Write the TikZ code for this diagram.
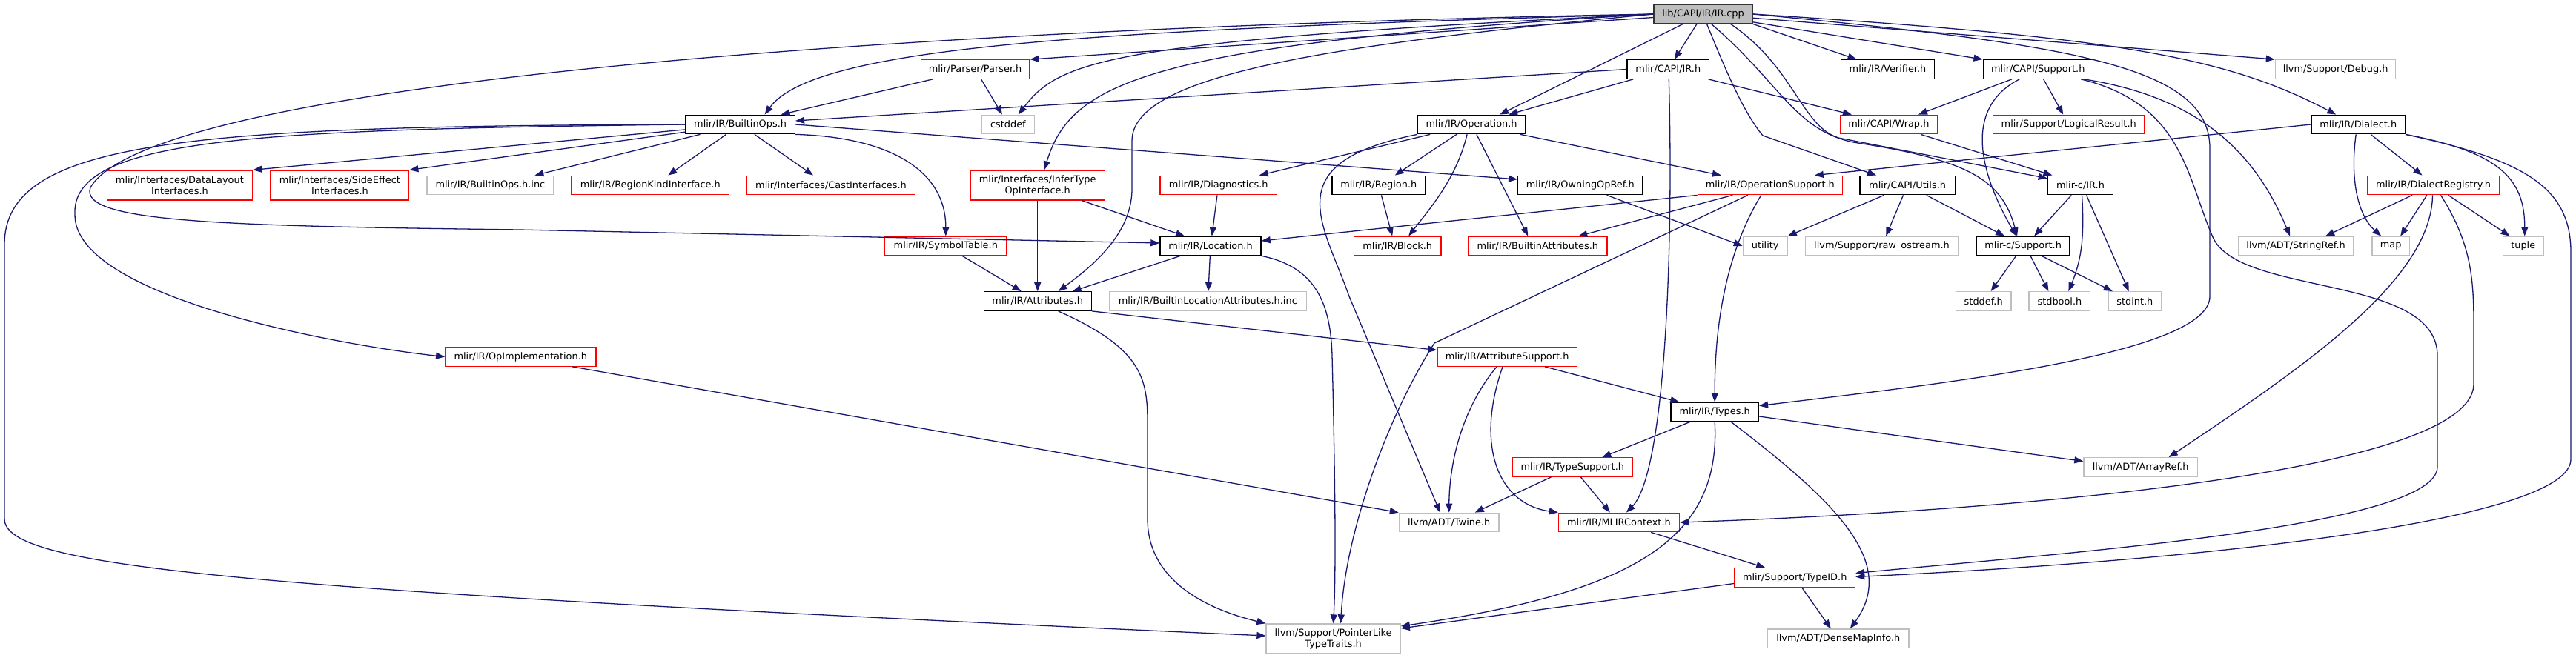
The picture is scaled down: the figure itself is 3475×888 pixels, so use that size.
\documentclass[tikz,border=0pt]{standalone}
\usepackage{fontspec}
\setmainfont{DejaVu Sans}
\usepackage{xcolor}
\usetikzlibrary{arrows.meta,positioning}
\definecolor{edgeblue}{HTML}{191970}
\definecolor{grey75}{HTML}{BFBFBF}

\begin{document}
\begin{tikzpicture}[x=1pt, y=-1pt,
    filebox/.style={draw, fill=white, line width=1.3pt, inner xsep=2pt, inner ysep=0pt,
      minimum height=25.5pt, align=center, font=\fontsize{12.9}{15}\selectfont},
    rootbox/.style={filebox, draw=black!80, fill=grey75},
    docbox/.style={filebox, draw=black},
    redbox/.style={filebox, draw=red},
    greybox/.style={filebox, draw=grey75},
    twoline/.style={minimum height=40pt},
    incl/.style={draw=edgeblue, line width=1.3pt, -{Triangle[length=12pt, width=9pt]}}]
    \useasboundingbox (0,0) rectangle (3475,888);
    % files, row by row
    \node[rootbox, minimum width=133pt] (ircpp) at (2297.5,19) {lib/CAPI/IR/IR.cpp};

    \node[redbox, minimum width=146.5pt] (parser) at (1315.6,93.5) {mlir/Parser/Parser.h};
    \node[docbox, minimum width=110.6pt] (capiir) at (2250.3,93.5) {mlir/CAPI/IR.h};
    \node[docbox, minimum width=126.3pt] (verifier) at (2546.5,93.5) {mlir/IR/Verifier.h};
    \node[docbox, minimum width=148.1pt] (capisupport) at (2749.2,93.5) {mlir/CAPI/Support.h};
    \node[greybox, minimum width=162.4pt] (debug) at (3150.6,93.5) {llvm/Support/Debug.h};

    \node[docbox, minimum width=147.7pt] (builtinops) at (998.6,168) {mlir/IR/BuiltinOps.h};
    \node[greybox, minimum width=70.8pt] (cstddef) at (1359.9,168) {cstddef};
    \node[docbox, minimum width=145pt] (operation) at (1985.1,168) {mlir/IR/Operation.h};
    \node[redbox, minimum width=130.5pt] (wrap) at (2547.9,168) {mlir/CAPI/Wrap.h};
    \node[redbox, minimum width=204.3pt] (logicalresult) at (2790.7,168) {mlir/Support/LogicalResult.h};
    \node[docbox, minimum width=126.3pt] (dialect) at (3181.2,168) {mlir/IR/Dialect.h};

    \node[redbox, twoline, minimum width=196.3pt] (datalayout) at (242.4,250) {mlir/Interfaces/DataLayout\\Interfaces.h};
    \node[redbox, twoline, minimum width=186.7pt] (sideeffect) at (458.4,250) {mlir/Interfaces/SideEffect\\Interfaces.h};
    \node[greybox, minimum width=170.9pt] (builtinopsinc) at (661.4,250) {mlir/IR/BuiltinOps.h.inc};
    \node[redbox, minimum width=212.7pt] (regionkind) at (877.3,250) {mlir/IR/RegionKindInterface.h};
    \node[redbox, minimum width=227.2pt] (castif) at (1121,250) {mlir/Interfaces/CastInterfaces.h};
    \node[redbox, twoline, minimum width=181.7pt] (infertype) at (1399.7,250) {mlir/Interfaces/InferType\\OpInterface.h};
    \node[redbox, minimum width=157.6pt] (diagnostics) at (1643.7,250) {mlir/IR/Diagnostics.h};
    \node[docbox, minimum width=125.5pt] (region) at (1859.8,250) {mlir/IR/Region.h};
    \node[docbox, minimum width=168.3pt] (owningopref) at (2131.8,250) {mlir/IR/OwningOpRef.h};
    \node[redbox, minimum width=195pt] (opsupport) at (2387.8,250) {mlir/IR/OperationSupport.h};
    \node[docbox, minimum width=128.2pt] (capiutils) at (2573.1,250) {mlir/CAPI/Utils.h};
    \node[docbox, minimum width=88.3pt] (mlircir) at (2806.5,250) {mlir-c/IR.h};
    \node[redbox, minimum width=178.7pt] (dialectreg) at (3282.5,250) {mlir/IR/DialectRegistry.h};

    \node[redbox, minimum width=164.1pt] (symboltable) at (1275.8,332) {mlir/IR/SymbolTable.h};
    \node[docbox, minimum width=136.2pt] (location) at (1633,332) {mlir/IR/Location.h};
    \node[redbox, minimum width=117.5pt] (block) at (1885.2,332) {mlir/IR/Block.h};
    \node[redbox, minimum width=187.1pt] (builtinattrs) at (2074.3,332) {mlir/IR/BuiltinAttributes.h};
    \node[greybox, minimum width=59.7pt] (utility) at (2381.2,332) {utility};
    \node[greybox, minimum width=206.6pt] (rawostream) at (2538.5,332) {llvm/Support/raw\_ostream.h};
    \node[docbox, minimum width=125.5pt] (mlircsupport) at (2729.1,332) {mlir-c/Support.h};
    \node[greybox, minimum width=155.6pt] (stringref) at (3097.1,332) {llvm/ADT/StringRef.h};
    \node[greybox, minimum width=50.5pt] (map) at (3225.2,332) {map};
    \node[greybox, minimum width=54.6pt] (tuple) at (3403.7,332) {tuple};

    \node[docbox, minimum width=145pt] (attributes) at (1399.7,406.5) {mlir/IR/Attributes.h};
    \node[greybox, minimum width=265.8pt] (builtinlocinc) at (1629.3,406.5) {mlir/IR/BuiltinLocationAttributes.h.inc};
    \node[greybox, minimum width=74.6pt] (stddef) at (2675.7,406.5) {stddef.h};
    \node[greybox, minimum width=82.6pt] (stdbool) at (2778.4,406.5) {stdbool.h};
    \node[greybox, minimum width=71.2pt] (stdint) at (2879.8,406.5) {stdint.h};

    \node[redbox, minimum width=203.2pt] (opimpl) at (702.3,481.5) {mlir/IR/OpImplementation.h};
    \node[redbox, minimum width=188.3pt] (attrsupport) at (2033.1,481.5) {mlir/IR/AttributeSupport.h};
    \node[docbox, minimum width=118.5pt] (types) at (2313.2,556) {mlir/IR/Types.h};
    \node[redbox, minimum width=161.9pt] (typesupport) at (2121.3,630.5) {mlir/IR/TypeSupport.h};
    \node[greybox, minimum width=153.3pt] (arrayref) at (2887.6,630.5) {llvm/ADT/ArrayRef.h};
    \node[greybox, minimum width=134.7pt] (twine) at (1954.7,705) {llvm/ADT/Twine.h};
    \node[redbox, minimum width=163pt] (mlircontext) at (2183.9,705) {mlir/IR/MLIRContext.h};
    \node[redbox, minimum width=162.6pt] (typeid) at (2421.2,779.5) {mlir/Support/TypeID.h};
    \node[greybox, twoline, minimum width=181.2pt] (pointerlike) at (1798.6,862) {llvm/Support/PointerLike\\TypeTraits.h};
    \node[greybox, minimum width=190.1pt] (densemapinfo) at (2479.8,861.8) {llvm/ADT/DenseMapInfo.h};

    % includes of the root file
    \draw[incl] (ircpp) -- (parser.north east);
    \draw[incl] (ircpp.west) .. controls (1500,40) and (1100,60) .. ([xshift=33pt]builtinops.north);
    \draw[incl] (ircpp.west) .. controls (1500,55) and (1430,80) .. ([xshift=14pt]cstddef.north);
    \draw[incl] (ircpp.west) .. controls (1550,60) and (1445,110) .. ([xshift=9pt]infertype.north);
    \draw[incl] (ircpp.west) .. controls (1800,60) and (1527,100) .. (1527,190) -- (1527,255) .. controls (1527,320) and (1465,365) .. ([xshift=28pt]attributes.north);
    \draw[incl] (ircpp.west) .. controls (1100,40) and (200,120) .. (122,253) .. controls (105,300) and (300,305) .. (700,310) -- ([yshift=4pt]location.west);
    \draw[incl] (ircpp) -- (capiir);
    \draw[incl] (ircpp) -- ([xshift=38pt]operation.north);
    \draw[incl] (ircpp.south east) -- ([xshift=-42pt]verifier.north);
    \draw[incl] (ircpp) -- (capisupport.north west);
    \draw[incl] (ircpp) -- (debug.north west);
    \draw[incl] (ircpp.east) .. controls (2850,50) and (3000,75) .. ([xshift=-30pt]dialect.north);
    \draw[incl] (ircpp.east) .. controls (2800,60) and (2981,90) .. (2981,200) -- (2981,400) .. controls (2981,480) and (2600,520) .. ([yshift=-5pt]types.north east);
    \draw[incl] ([xshift=5pt]ircpp.south) .. controls (2322,80) and (2350,150) .. (2378,183) -- ([xshift=-42pt]capiutils.north);
    \draw[incl] ([xshift=37pt]ircpp.south) .. controls (2420,90) and (2430,170) .. (2480,186) -- ([yshift=-4pt]mlircir.north west);
    \draw[incl] ([xshift=11pt]ircpp.south) .. controls (2400,110) and (2420,175) .. (2500,192) .. controls (2650,215) and (2700,240) .. ([xshift=-8pt]mlircsupport.north);

    % C API headers
    \draw[incl] (capiir.west) -- ([yshift=5pt]builtinops.east);
    \draw[incl] (capiir) -- ([xshift=50pt]operation.north);
    \draw[incl] (capiir) -- ([xshift=-50pt]wrap.north);
    \draw[incl] ([xshift=1pt]capiir.south) .. controls (2258,350) and (2245,640) .. ([xshift=10pt]mlircontext.north);
    \draw[incl] (capisupport) -- ([xshift=40pt]wrap.north);
    \draw[incl] (capisupport) -- (logicalresult);
    \draw[incl] ([xshift=-25pt]capisupport.south) .. controls (2640,150) and (2680,250) .. ([xshift=-9pt]mlircsupport.north);
    \draw[incl] ([xshift=62pt]capisupport.south) .. controls (2960,130) and (3040,200) .. ([xshift=-8pt]stringref.north);
    \draw[incl] ([xshift=58pt]capisupport.south) .. controls (2945,140) and (2950,240) .. (2985,320) .. controls (3020,400) and (3288,370) .. (3288,480) -- (3288,630) .. controls (3288,710) and (2800,745) .. ([yshift=6pt]typeid.east);
    \draw[incl] (wrap) -- ([xshift=-38pt]mlircir.north);
    \draw[incl] (capiutils) -- (utility.north east);
    \draw[incl] (capiutils) -- (rawostream);
    \draw[incl] (capiutils) -- ([xshift=-25pt]mlircsupport.north);
    \draw[incl] (mlircir) -- ([xshift=15pt]mlircsupport.north);
    \draw[incl] ([xshift=2pt]mlircir.south) .. controls (2812,320) and (2808,350) .. ([xshift=12pt]stdbool.north);
    \draw[incl] ([xshift=8pt]mlircir.south) -- ([xshift=-8pt]stdint.north);
    \draw[incl] (mlircsupport) -- ([xshift=10pt]stddef.north);
    \draw[incl] ([xshift=10pt]mlircsupport.south) -- ([xshift=-15pt]stdbool.north);
    \draw[incl] ([xshift=25pt]mlircsupport.south) -- ([xshift=-30pt]stdint.north);

    % dialects
    \draw[incl] (dialect.west) -- ([xshift=60pt]opsupport.north);
    \draw[incl] (dialect) -- ([xshift=-15pt]dialectreg.north);
    \draw[incl] ([xshift=-3pt]dialect.south) .. controls (3170,240) and (3180,290) .. ([xshift=-13pt]map.north);
    \draw[incl] (dialect.south east) .. controls (3370,205) and (3406,240) .. ([xshift=2pt]tuple.north);
    \draw[incl] (dialect.south east) .. controls (3400,215) and (3468,250) .. (3468,340) -- (3468,620) .. controls (3468,700) and (3000,755) .. ([yshift=1pt]typeid.east);
    \draw[incl] (dialectreg) -- ([xshift=40pt]stringref.north);
    \draw[incl] (dialectreg) -- ([xshift=13pt]map.north);
    \draw[incl] (dialectreg) -- ([xshift=-18pt]tuple.north);
    \draw[incl] ([xshift=-1pt]dialectreg.south) .. controls (3280,380) and (3100,500) .. ([xshift=38pt]arrayref.north);
    \draw[incl] ([xshift=10pt]dialectreg.south) .. controls (3335,330) and (3337,380) .. (3337,440) -- (3337,520) .. controls (3330,640) and (2700,690) .. (mlircontext.east);

    % builtin ops
    \draw[incl] (parser) -- (cstddef);
    \draw[incl] (parser) -- ([xshift=55pt]builtinops.north);
    \draw[incl] (builtinops) -- (datalayout.north east);
    \draw[incl] (builtinops) -- (sideeffect.north east);
    \draw[incl] (builtinops) -- ([xshift=60pt]builtinopsinc.north);
    \draw[incl] (builtinops) -- ([xshift=24pt]regionkind.north);
    \draw[incl] (builtinops) -- ([xshift=-24pt]castif.north);
    \draw[incl] (builtinops.south east) .. controls (1200,185) and (1276,230) .. (symboltable.north);
    \draw[incl] (builtinops.east) -- ([yshift=8pt]owningopref.west);
    \draw[incl] (builtinops.west) .. controls (350,175) and (95,185) .. (101,290) .. controls (101,400) and (450,465) .. (opimpl.west);
    \draw[incl] (builtinops.west) .. controls (250,170) and (6,190) .. (6,330) -- (6,700) .. controls (6,765) and (300,795) .. ([yshift=4pt]pointerlike.west);

    % IR core
    \draw[incl] (symboltable) -- ([xshift=-22pt]attributes.north);
    \draw[incl] (infertype) -- (attributes);
    \draw[incl] (infertype) -- ([xshift=-35pt]location.north);
    \draw[incl] (diagnostics) -- (location);
    \draw[incl] (location) -- ([xshift=47pt]attributes.north);
    \draw[incl] (location) -- (builtinlocinc);
    \draw[incl] (location.south east) .. controls (1775,360) and (1795,410) .. (1797,480) .. controls (1800,600) and (1803,760) .. (pointerlike.north);
    \draw[incl] (attributes.south east) -- ([yshift=9pt]attrsupport.west);
    \draw[incl] ([xshift=28pt]attributes.south) .. controls (1540,470) and (1548,510) .. (1548,570) -- (1548,700) .. controls (1548,790) and (1640,825) .. (pointerlike.north west);
    \draw[incl] (operation) -- ([xshift=55pt]diagnostics.north);
    \draw[incl] (operation) -- ([xshift=22pt]region.north);
    \draw[incl] ([xshift=-6pt]operation.south) .. controls (1965,240) and (1930,280) .. ([xshift=15pt]block.north);
    \draw[incl] (operation) -- ([xshift=-13pt]builtinattrs.north);
    \draw[incl] (operation) -- ([xshift=-66pt]opsupport.north);
    \draw[incl] (operation.south west) .. controls (1720,220) and (1785,300) .. (1820,400) -- ([xshift=-12pt]twine.north);
    \draw[incl] (region) -- ([xshift=-7pt]block.north);
    \draw[incl] (owningopref) -- (utility.west);
    \draw[incl] (opsupport.south west) -- ([yshift=7pt]location.east);
    \draw[incl] (opsupport) -- ([xshift=55pt]builtinattrs.north);
    \draw[incl] ([xshift=-30pt]opsupport.south) -- (1935,463) .. controls (1870,565) and (1815,720) .. ([xshift=10pt]pointerlike.north);
    \draw[incl] ([xshift=-12pt]opsupport.south) .. controls (2335,330) and (2313,420) .. (types.north);

    % storage, types and context
    \draw[incl] ([xshift=70pt]opimpl.south) -- (twine.north west);
    \draw[incl] ([xshift=-14pt]attrsupport.south) .. controls (1965,560) and (1955,640) .. (twine.north);
    \draw[incl] ([xshift=-6pt]attrsupport.south) .. controls (1990,600) and (2020,680) .. (mlircontext.north west);
    \draw[incl] (attrsupport) -- ([xshift=12pt]types.north west);
    \draw[incl] (types) -- ([xshift=40pt]typesupport.north);
    \draw[incl] ([yshift=-6pt]types.east) -- ([yshift=8pt]arrayref.west);
    \draw[incl] ([xshift=22pt]types.south) .. controls (2480,680) and (2560,760) .. ([xshift=16pt]densemapinfo.north);
    \draw[incl] (types.south) .. controls (2322,730) and (2200,800) .. ([yshift=17pt]pointerlike.east);
    \draw[incl] (typesupport) -- ([xshift=35pt]twine.north);
    \draw[incl] (typesupport) -- ([xshift=-12pt]mlircontext.north);
    \draw[incl] (mlircontext) -- ([xshift=-40pt]typeid.north);
    \draw[incl] ([yshift=-8pt]typeid.west) -- ([yshift=14pt]pointerlike.east);
    \draw[incl] (typeid) -- ([xshift=-10pt]densemapinfo.north);
\end{tikzpicture}
\end{document}
